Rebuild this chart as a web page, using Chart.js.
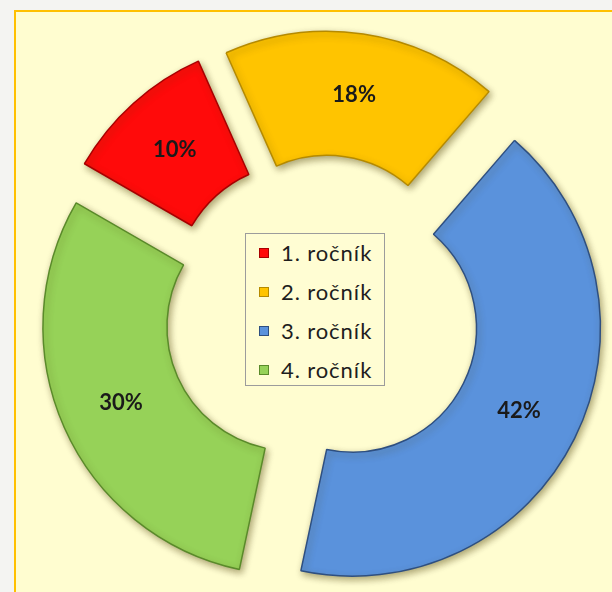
<!DOCTYPE html>
<html><head><meta charset="utf-8">
<script src="https://cdn.jsdelivr.net/npm/chart.js@4"></script>
<style>
html,body{margin:0;padding:0;width:612px;height:592px;overflow:hidden;background:#F4F4F2;}
#frame{position:absolute;left:14px;top:10px;width:640px;height:620px;background:#FFFDD0;border-top:2px solid #FFC000;border-left:2px solid #FFC000;}
#c{position:absolute;left:0;top:0;}
#legend{position:absolute;left:245px;top:233px;width:138px;height:151px;border:1px solid #9C9C9C;background:#FFFDD3;font-family:Lato,sans-serif;font-size:22px;letter-spacing:0.9px;color:#1E1E1E;}
.rows{margin-top:-1px;}
.row{height:39px;display:flex;align-items:center;padding-left:13px;}
.mk{width:10px;height:10px;margin-right:12px;box-sizing:border-box;border:1px solid;}
</style></head><body>
<div id="frame"></div>
<canvas id="c" width="612" height="592"></canvas>
<div id="legend"><div class="rows" id="rows"></div></div>
<script>
const categories = ['1. ročník', '2. ročník', '3. ročník', '4. ročník'];
const shares = [10, 18, 42, 30];
const fillColors = ['#FF0A0A', '#FFC400', '#5A92DC', '#96D258'];
const edgeColors = ['#A80000', '#B58A00', '#2E4F80', '#5A8A2A'];
const EXPLODE = 34;

const explode = {
  id: 'explode',
  beforeDatasetsDraw(chart) {
    const a = chart.chartArea;
    const cx = (a.left + a.right) / 2, cy = (a.top + a.bottom) / 2;
    chart.getDatasetMeta(0).data.forEach(el => {
      const m = (el.startAngle + el.endAngle) / 2;
      el.x = cx + EXPLODE * Math.cos(m);
      el.y = cy + EXPLODE * Math.sin(m);
    });
    const ctx = chart.ctx;
    ctx.save();
    ctx.shadowColor = 'rgba(70,60,0,0.45)';
    ctx.shadowBlur = 7;
    ctx.shadowOffsetX = 2;
    ctx.shadowOffsetY = 3;
  },
  afterDatasetsDraw(chart) {
    const ctx = chart.ctx;
    ctx.restore();
    ctx.save();
    ctx.font = 'bold 22px Lato, sans-serif';
    ctx.fillStyle = '#1A1A1A';
    ctx.textAlign = 'center';
    ctx.textBaseline = 'middle';
    const total = shares.reduce((s, v) => s + v, 0);
    chart.getDatasetMeta(0).data.forEach((el, i) => {
      const p = el.getCenterPoint();
      ctx.fillText(Math.round(shares[i] / total * 100) + '%', p.x, p.y);
    });
    ctx.restore();
  }
};

new Chart(document.getElementById('c'), {
  type: 'doughnut',
  data: {
    labels: categories,
    datasets: [{
      data: shares,
      backgroundColor: fillColors,
      borderColor: edgeColors,
      borderWidth: 1.5
    }]
  },
  options: {
    responsive: false,
    animation: false,
    rotation: -60,
    radius: 248,
    cutout: '50%',
    layout: { padding: { left: 32, top: 34, right: 0, bottom: 0 } },
    plugins: { legend: { display: false }, tooltip: { enabled: false } }
  },
  plugins: [explode]
});

const lg = document.getElementById('rows');
categories.forEach((c, i) => {
  const row = document.createElement('div');
  row.className = 'row';
  const mk = document.createElement('span');
  mk.className = 'mk';
  mk.style.background = fillColors[i];
  mk.style.borderColor = edgeColors[i];
  const t = document.createElement('span');
  t.textContent = c;
  row.appendChild(mk); row.appendChild(t);
  lg.appendChild(row);
});
</script>
</body></html>
